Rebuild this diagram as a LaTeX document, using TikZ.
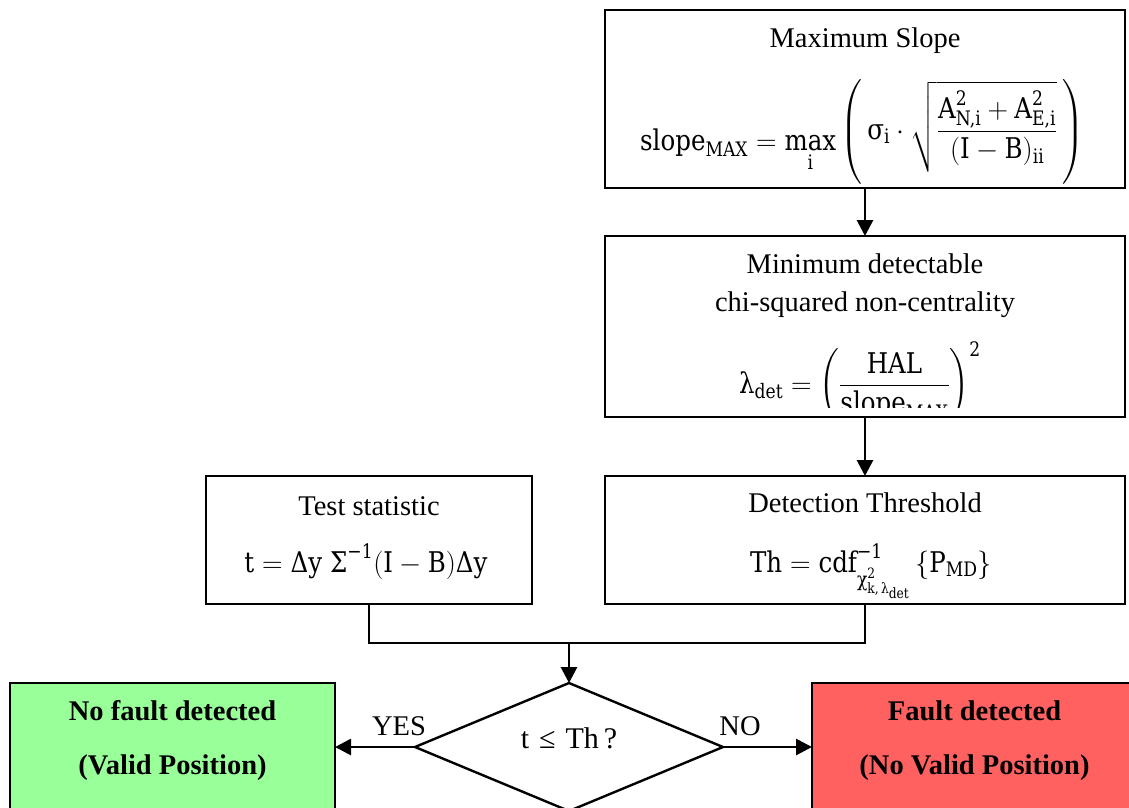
\RequirePackage{fix-cm}
\documentclass[tikz,border=0pt]{standalone}
\usepackage{amsmath}
\usepackage{exscale}
\usepackage{fontspec}
\setmainfont{Liberation Serif}
\newfontfamily\mathtextfont{DejaVu Serif}[FakeStretch=0.86]
\usetikzlibrary{arrows.meta,shapes.geometric}
\definecolor{okgreen}{RGB}{153,255,153}
\definecolor{faultred}{RGB}{255,97,97}
% upright formula letters
\newcommand{\mt}[1]{\text{\mathtextfont #1}}
\tikzset{
  every node/.style={font=\fontsize{28.5}{34}\selectfont},
  box/.style={draw, line width=2.4pt, fill=white, inner sep=0pt, outer sep=0pt},
  label/.style={anchor=base, inner sep=0pt},
  conn/.style={line width=2.8pt},
  arr/.style={conn, -{Triangle[width=16pt,length=16pt]}},
  bold/.style={font=\fontsize{28.5}{34}\selectfont\bfseries},
}
\begin{document}
\begin{tikzpicture}[x=1pt,y=-1pt]
\useasboundingbox (0,0) rectangle (1129,807);
\clip (0,0) rectangle (1129,807);

% boxes
\node[box, minimum width=520pt, minimum height=178pt] (slope) at (865,99) {};
\node[box, minimum width=520pt, minimum height=181pt] (ncp) at (865,326.5) {};
\node[box, minimum width=326pt, minimum height=128pt] (test) at (369,540) {};
\node[box, minimum width=520pt, minimum height=128pt] (thr) at (865,540) {};
\node[box, diamond, aspect=2.4, minimum width=308pt, minimum height=128pt] (dec) at (569,747) {};
\node[box, fill=okgreen, minimum width=325pt, minimum height=128pt] (ok) at (172.5,747) {};
\node[box, fill=faultred, minimum width=325pt, minimum height=128pt] (bad) at (974.5,747) {};

% maximum slope
\node[label] (slopeT) at (865,47) {Maximum Slope};
\node[label] (slopeF) at (862,150) {$\mt{slope}_{\mt{MAX}} = \mathop{\mt{max}}\limits_{\mt{i}}\raisebox{11pt}{$\left(\,\mt{σ}_{\mt{i}}\cdot\sqrt{\dfrac{\mt{A}^{\mt{2}}_{\mt{N,i}}+\mt{A}^{\mt{2}}_{\mt{E,i}}}{(\mt{I}-\mt{B})_{\mt{ii}}}}\,\right)$}$};

% non-centrality
\node[label] (ncpT1) at (865,273) {Minimum detectable};
\node[label] (ncpT2) at (865,311) {chi-squared non-centrality};
\begin{scope}
\clip (606,237) rectangle (1124,407);
\node[label] (ncpF) at (860,393) {$\mt{λ}_{\mt{det}} = \left(\dfrac{\mt{HAL}}{\mt{slope}_{\mt{MAX}}}\right)^{\mt{2}}$};
\end{scope}

% test statistic and threshold
\node[label] (testT) at (369,515) {Test statistic};
\node[label] (testF) at (366,572) {$\mt{t} = \mt{Δy}\;\mt{Σ}^{\mt{−1}}(\mt{I}-\mt{B})\mt{Δy}$};
\node[label] (thrT) at (865,512) {Detection Threshold};
\node[label] (thrF) at (871,572) {$\mt{Th} = \mt{cdf}^{\mt{−1}}_{\raisebox{-7pt}{$\scriptstyle\mt{χ}^{\mt{2}}_{\mt{k,}\,\mt{λ}_{\mt{det}}}$}}\,\{\mt{P}_{\mt{MD}}\}$};

% decision
\node[label, font=\fontsize{30}{36}\selectfont] (decT) at (569,748) {t\,\,≤\,\,Th\,?};
\node[label, bold] (okT1) at (172.5,720) {No fault detected};
\node[label, bold] (okT2) at (172.5,774) {(Valid Position)};
\node[label, bold] (badT1) at (974.5,720) {Fault detected};
\node[label, bold] (badT2) at (974.5,774) {(No Valid Position)};
\node[label] (yes) at (399,735) {YES};
\node[label] (no) at (740,735) {NO};

% connectors
\coordinate (join) at (569,643);
\draw[arr] (slope.south) -- (ncp.north);
\draw[arr] (ncp.south) -- (thr.north);
\draw[conn] (test.south) |- (join) -| (thr.south);
\draw[arr] (join) -- (dec.north);
\draw[arr] (dec.west) -- (ok.east);
\draw[arr] (dec.east) -- (bad.west);
\end{tikzpicture}
\end{document}
